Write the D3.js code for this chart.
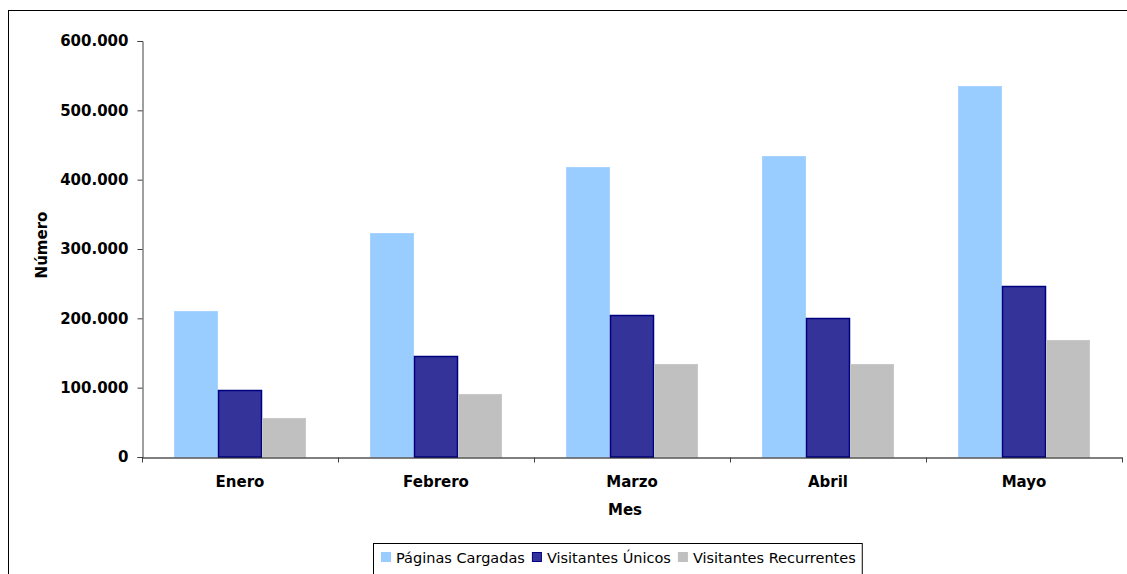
<!DOCTYPE html>
<html><head><meta charset="utf-8">
<script src="https://cdn.jsdelivr.net/npm/d3@7"></script>
<style>body{margin:0;background:#fff}svg{display:block}</style>
</head><body>
<svg id="c" width="1127" height="574"></svg>
<script>
const months = ["Enero","Febrero","Marzo","Abril","Mayo"];
const seriesNames = ["Páginas Cargadas","Visitantes Únicos","Visitantes Recurrentes"];
const paginasCargadas = [210000, 323000, 418000, 434000, 535000];
const visitantesUnicos = [97000, 145000, 205000, 200000, 246000];
const visitantesRecurrentes = [56000, 91000, 134000, 134000, 169000];
const yTicks = [0,100000,200000,300000,400000,500000,600000];
const fills = ["#99CCFF","#333399","#C0C0C0"];
const strokes = ["#A8D3FF","#000080","#C8C8C8"];

const svg = d3.select("#c");
const font = "'DejaVu Sans', Verdana, sans-serif";
svg.append("rect").attr("x",8.5).attr("y",10.5).attr("width",1140).attr("height",600)
  .attr("fill","#fff").attr("stroke","#000").attr("stroke-width",1);

const m = {l:142, r:1122, t:41, b:457};
const x = d3.scaleBand().domain(months).range([m.l,m.r]).paddingInner(0).paddingOuter(0);
const xs = d3.scaleBand().domain(d3.range(3)).range([-66,66]);
const y = d3.scaleLinear().domain([0,600000]).range([m.b,m.t]);
const fmt = v => d3.format(",")(v).replace(/,/g,".");

const data = [paginasCargadas, visitantesUnicos, visitantesRecurrentes];
const groups = svg.append("g");
data.forEach((vals,si)=>{
  groups.selectAll(null).data(vals).enter().append("rect")
    .attr("x",(d,i)=>x(months[i]) + x.bandwidth()/2 + xs(si) + 0.5)
    .attr("y",d=>Math.round(y(d))+0.5)
    .attr("width",xs.bandwidth()-1)
    .attr("height",d=>m.b-Math.round(y(d))-0.5)
    .attr("fill",fills[si]).attr("stroke",strokes[si]).attr("stroke-width",si===1?1.5:1);
});

const yAxis = svg.append("g").attr("transform",`translate(${m.l+0.5},0)`)
  .call(d3.axisLeft(y).tickValues(yTicks).tickFormat(fmt).tickSize(5).tickPadding(9));
yAxis.selectAll("text").attr("font-family",font).attr("font-weight","bold").attr("font-size",15).attr("fill","#000");
yAxis.selectAll("line,path").attr("stroke","#404040");

const xAxis = svg.append("g").attr("transform",`translate(0,${m.b+0.5})`)
  .call(d3.axisBottom(x).tickSize(0).tickPadding(19));
xAxis.selectAll("text").attr("font-family",font).attr("font-weight","bold").attr("font-size",15).attr("fill","#000");
xAxis.select("path").attr("stroke","#000");
const bounds = months.map(mm=>x(mm)).concat([m.r]);
xAxis.selectAll(".bt").data(bounds).enter().append("line")
  .attr("x1",d=>d+0.5).attr("x2",d=>d+0.5).attr("y1",0).attr("y2",5).attr("stroke","#404040");

svg.append("text").attr("transform","translate(47,245) rotate(-90)")
  .attr("text-anchor","middle").attr("font-family",font).attr("font-weight","bold").attr("font-size",15).text("Número");
svg.append("text").attr("x",(m.l+m.r)/2 - 7).attr("y",515)
  .attr("text-anchor","middle").attr("font-family",font).attr("font-weight","bold").attr("font-size",15).text("Mes");

// legend
const lg = svg.append("g");
const lbox = lg.append("rect").attr("y",543.5).attr("height",40).attr("fill","#fff").attr("stroke","#000");
let cx = 381;
seriesNames.forEach((n,i)=>{
  lg.append("rect").attr("x",cx+0.5).attr("y",552.5).attr("width",9).attr("height",9)
    .attr("fill",fills[i]).attr("stroke",i===1?"#000080":fills[i]);
  const t = lg.append("text").attr("x",cx+15).attr("y",562.5).attr("font-family",font).attr("font-size",14.5)
    .attr("textLength", null).text(n);
  cx += 15 + t.node().getComputedTextLength() + 7;
});
lbox.attr("x",373.5).attr("width",cx-373-1);
</script>
</body></html>
